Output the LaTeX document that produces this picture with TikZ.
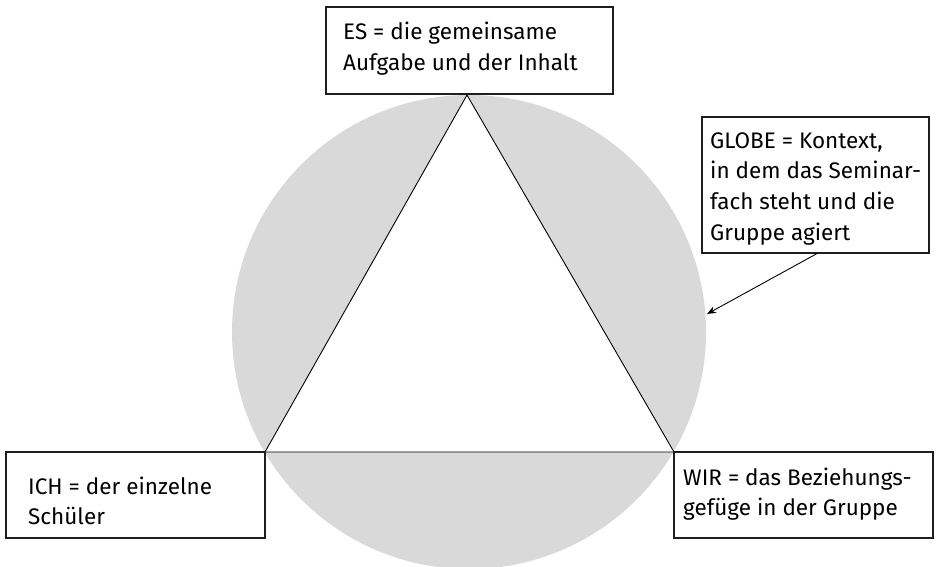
\documentclass[tikz,border=0pt]{standalone}
\usepackage{fontspec}
\setmainfont{Fira Sans}
\usetikzlibrary{arrows.meta}
\definecolor{globe}{RGB}{217,217,217}
\definecolor{edge}{RGB}{30,30,30}
\begin{document}
\begin{tikzpicture}[x=1pt,y=-1pt,
  box/.style={draw=edge,line width=1.1pt,fill=white,inner sep=0pt},
  txt/.style={anchor=base west,inner sep=0pt,font=\fontsize{22.5}{30}\selectfont,text=black},
  link/.style={draw=black,line width=0.9pt}]
\useasboundingbox (0,0) rectangle (936,566);
\fill[white] (0,0) rectangle (936,566);
% globe
\fill[globe] (469,332) circle[radius=237];
\coordinate (top) at (467,95);
\coordinate (lft) at (265,452);
\coordinate (rgt) at (674,452);
\filldraw[fill=white,draw=black,line width=0.9pt] (top) -- (lft) -- (rgt) -- cycle;
% boxes
\node[box,minimum width=287pt,minimum height=87pt] (es) at (469.5,50.5) {};
\node[box,minimum width=227pt,minimum height=136pt] (globebox) at (815.5,185) {};
\node[box,minimum width=259pt,minimum height=86pt] (ich) at (135.5,495) {};
\node[box,minimum width=259pt,minimum height=86pt] (wir) at (803.5,495) {};
% texts
\node[txt] (es1) at (343,39) {ES = die gemeinsame};
\node[txt] (es2) at (343,70) {Aufgabe und der Inhalt};
\node[txt] (g1) at (710,148) {GLOBE = Kontext,};
\node[txt] (g2) at (710,178.7) {in dem das Seminar-};
\node[txt] (g3) at (710,209.4) {fach steht und die};
\node[txt] (g4) at (710,240) {Gruppe agiert};
\node[txt] (i1) at (28,494) {ICH = der einzelne};
\node[txt] (i2) at (28,524) {Schüler};
\node[txt] (w1) at (683,485) {WIR = das Beziehungs-};
\node[txt] (w2) at (683,515) {gefüge in der Gruppe};
% arrow
\coordinate (tip) at (707,314);
\draw[link,-{Stealth[length=9pt,width=7pt]}] (globebox.south) ++(1.5,0) -- (tip);
\end{tikzpicture}
\end{document}
